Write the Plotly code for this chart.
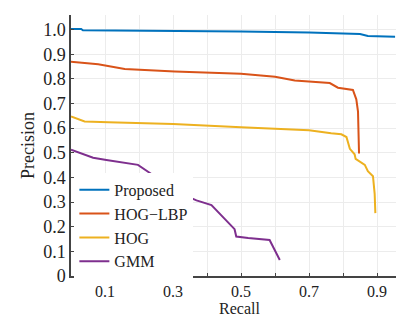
import plotly.graph_objects as go

prop_r = [0.0, 0.03, 0.035, 0.3, 0.5, 0.7, 0.83, 0.85, 0.873, 0.953]
prop_p = [1.002, 1.002, 0.997, 0.995, 0.992, 0.988, 0.985, 0.982, 0.974, 0.971]

hl_r = [0.0, 0.08, 0.158, 0.305, 0.5, 0.6, 0.658, 0.761, 0.785, 0.829, 0.839, 0.844, 0.847]
hl_p = [0.869, 0.859, 0.840, 0.830, 0.821, 0.808, 0.793, 0.783, 0.764, 0.755, 0.717, 0.667, 0.497]

hog_r = [0.0, 0.04, 0.11, 0.3, 0.5, 0.7, 0.765, 0.795, 0.81, 0.82, 0.834, 0.837, 0.864, 0.873, 0.888, 0.893, 0.895]
hog_p = [0.647, 0.627, 0.624, 0.617, 0.604, 0.591, 0.579, 0.575, 0.564, 0.516, 0.494, 0.475, 0.451, 0.425, 0.405, 0.333, 0.255]

gmm_r = [0.0, 0.065, 0.104, 0.197, 0.246, 0.29, 0.369, 0.413, 0.481, 0.486, 0.521, 0.584, 0.614]
gmm_p = [0.512, 0.48, 0.471, 0.451, 0.405, 0.353, 0.307, 0.288, 0.19, 0.16, 0.154, 0.146, 0.065]

x_ticks = [0.1, 0.2, 0.3, 0.4, 0.5, 0.6, 0.7, 0.8, 0.9]
x_text = ["0.1", "", "0.3", "", "0.5", "", "0.7", "", "0.9"]
y_ticks = [0, 0.1, 0.2, 0.3, 0.4, 0.5, 0.6, 0.7, 0.8, 0.9, 1.0]
y_text = ["0", "0.1", "0.2", "0.3", "0.4", "0.5", "0.6", "0.7", "0.8", "0.9", "1.0"]

series = [
    ("Proposed", prop_r, prop_p, "#0072BD"),
    ("HOG\u2212LBP", hl_r, hl_p, "#D95319"),
    ("HOG", hog_r, hog_p, "#EDB120"),
    ("GMM", gmm_r, gmm_p, "#7E2F8E"),
]

fig = go.Figure()
for name, xs, ys, c in series:
    fig.add_trace(go.Scatter(x=xs, y=ys, mode="lines", name=name,
                             line=dict(color=c, width=2)))

font = "Liberation Serif"
fig.update_layout(
    width=404, height=322,
    margin=dict(l=63, r=4, t=7, b=54),
    paper_bgcolor="white", plot_bgcolor="white",
    font=dict(family=font, size=19, color="#222"),
    legend=dict(x=0.01, y=0.395, xanchor="left", yanchor="top",
                bgcolor="white", font=dict(family=font, size=16, color="#222"),
                itemwidth=30, tracegroupgap=0),
    showlegend=True,
    annotations=[dict(text="Recall", xref="paper", yref="paper", x=0.5, y=-0.085,
                      xanchor="center", yanchor="top", showarrow=False,
                      font=dict(family=font, size=16, color="#222"))],
)
fig.update_xaxes(range=[0, 0.991], tickvals=x_ticks, ticktext=x_text,
                 showgrid=True, gridcolor="#ececec", gridwidth=1,
                 showline=True, linecolor="#444", linewidth=1.5,
                 ticks="inside", ticklen=3, tickcolor="#444",
                 zeroline=False,
                 tickfont=dict(family=font, size=16))
fig.update_yaxes(range=[0, 1.059], tickvals=y_ticks, ticktext=y_text,
                 showgrid=True, gridcolor="#ececec", gridwidth=1,
                 showline=True, linecolor="#444", linewidth=1.5,
                 ticks="inside", ticklen=3, tickcolor="#444",
                 zeroline=False,
                 title=dict(text="Precision", font=dict(family=font, size=18), standoff=4),
                 tickfont=dict(family=font, size=18))

fig.write_html("out.html")
